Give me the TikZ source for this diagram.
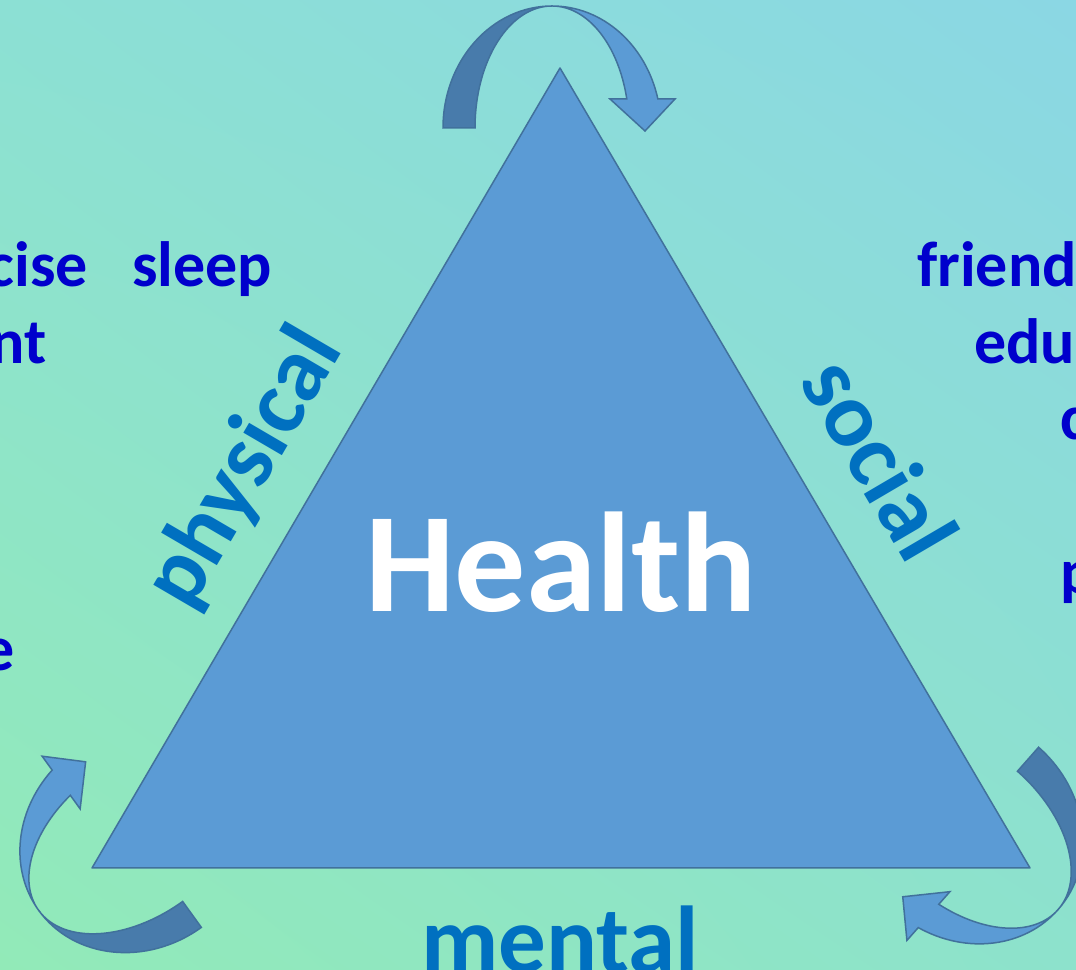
\documentclass[tikz,border=0pt]{standalone}
\usepackage{fontspec}
\setmainfont{Carlito}
\usetikzlibrary{positioning}
\usetikzlibrary{shadings}

\definecolor{bgtl}{HTML}{8CE0D4}
\definecolor{bgtr}{HTML}{8BD7E4}
\definecolor{bgbl}{HTML}{92EAB8}
\definecolor{bgbr}{HTML}{8DE2CC}
\definecolor{triblue}{HTML}{5B9BD5}
\definecolor{edgeblue}{HTML}{41719C}
\definecolor{backblue}{HTML}{487BAB}
\definecolor{sideblue}{HTML}{0070C0}
\definecolor{wordblue}{HTML}{0000CC}

\begin{document}
\begin{tikzpicture}[x=1pt, y=1pt,
    tri/.style={fill=triblue, draw=edgeblue, line width=1.5pt, line join=round},
    band/.style={draw=edgeblue, line width=1.5pt, line join=miter},
    side/.style={text=sideblue, inner sep=0pt, font=\bfseries\fontsize{92}{92}\selectfont},
    word/.style={text=wordblue, inner sep=0pt, font=\bfseries\fontsize{64}{64}\selectfont}]
  \useasboundingbox (0,0) rectangle (1076,969);
  \clip (0,0) rectangle (1076,969);
  \shade[upper left=bgtl, upper right=bgtr, lower left=bgbl, lower right=bgbr] (0,0) rectangle (1076,969);

  % the triangle
  \coordinate (apex) at (560,901);
  \coordinate (lcorner) at (92,101);
  \coordinate (rcorner) at (1030,101);
  \draw[tri] (apex) -- (lcorner) -- (rcorner) -- cycle;

  % curved arrows round the corners
  \foreach \cx/\cy/\rot in {552/841/0, 137.6/130/125.8, 966.5/140/-131.4}{
    \begin{scope}[shift={(\cx,\cy)}, rotate=\rot]
      \draw[band, fill=backblue] (-109,0)
        arc[start angle=180, end angle=90, x radius=109, y radius=122]
        arc[start angle=90, end angle=180, x radius=77, y radius=122] -- cycle;
      \draw[band, fill=triblue] (0,122)
        arc[start angle=90, end angle=13.75, x radius=109, y radius=122]
        -- (123,29) -- (93,-3) -- (58,29) -- (74.8,29)
        arc[start angle=13.75, end angle=90, x radius=77, y radius=122] -- cycle;
    \end{scope}
  }

  % labels
  \node[anchor=base, text=white, inner sep=0pt, font=\bfseries\fontsize{142}{142}\selectfont] (health) at (561,357.3) {Health};
  \node[side, anchor=base east, rotate=59.7] (physical) at (344,620) {physical};
  \node[side, anchor=base east, rotate=-59.6] (social) at (907.5,401.5) {social};
  \node[side, anchor=base, font=\bfseries\fontsize{95}{95}\selectfont] (mental) at (560,-3) {mental};

  % words cut by the edges
  \node[word, anchor=base west] (sleep) at (132,682) {sleep};
  \node[word, anchor=base east] (cise) at (88,682) {cise};
  \node[word, anchor=base east] (nt) at (47,605.7) {nt};
  \node[word, anchor=base east] (e) at (15,298) {e};
  \node[word, anchor=base west] (friend) at (917,682) {friend};
  \node[word, anchor=base west] (edu) at (974,605.7) {edu};
  \node[word, anchor=base west] (c) at (1060,529) {c};
  \node[word, anchor=base west] (p) at (1060,375) {p};
\end{tikzpicture}
\end{document}
